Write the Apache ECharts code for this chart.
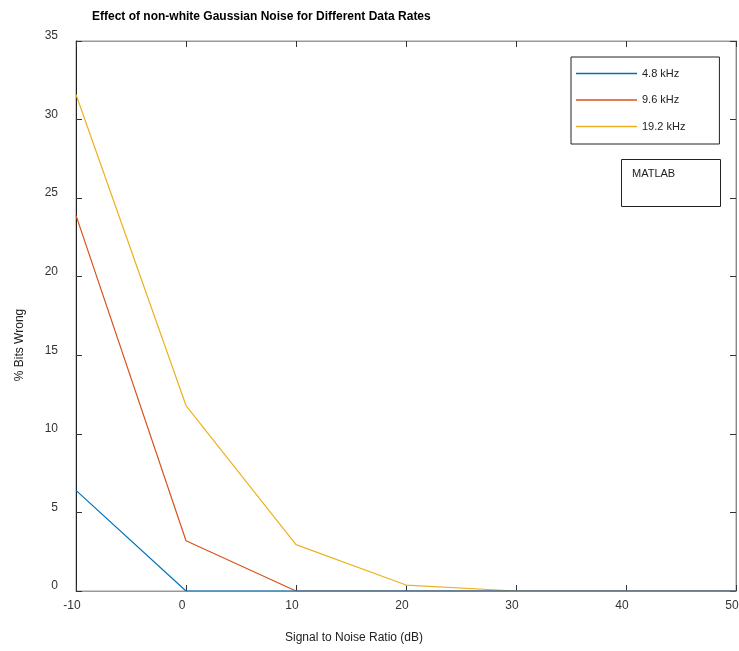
<!DOCTYPE html>
<html>
<head>
<meta charset="utf-8">
<script src="https://cdn.jsdelivr.net/npm/echarts@6/dist/echarts.min.js"></script>
<style>
  html, body { margin: 0; padding: 0; background: #fff; }
  #chart { width: 739px; height: 651px; }
</style>
</head>
<body>
<div id="chart"></div>
<script>
// 数据
var snr = [-10, 0, 10, 20, 30, 40, 50];
var rate48 = [6.4, 0, 0, 0, 0, 0, 0];
var rate96 = [23.9, 3.2, 0, 0, 0, 0, 0];
var rate192 = [31.6, 11.8, 2.95, 0.38, 0, 0, 0];
var seriesNames = ["4.8 kHz", "9.6 kHz", "19.2 kHz"];

(function() {
    var myChart = echarts.init(document.getElementById("chart"));

    function pairs(ys) {
        return snr.map(function(x, i) { return [x, ys[i]]; });
    }

    var font = "Liberation Sans, Arial, sans-serif";

    var option = {
        animation: false,
        color: ["#0072BD", "#D95319", "#EDB120"],
        textStyle: { fontFamily: font },
        title: {
            text: "Effect of non-white Gaussian Noise for Different Data Rates",
            left: 87,
            top: 6,
            textStyle: { fontSize: 12, fontWeight: "bold", color: "#000", fontFamily: font }
        },
        legend: {
            orient: "vertical",
            left: 571,
            top: 57,
            data: seriesNames,
            icon: "rect",
            itemWidth: 61,
            itemHeight: 1.5,
            itemGap: 15.5,
            padding: [11, 34, 12, 5],
            borderColor: "#222",
            borderWidth: 1,
            textStyle: { fontSize: 11, color: "#222", padding: [0, 0, 5, 0] }
        },
        grid: {
            left: 76,
            right: 3,
            top: 41,
            bottom: 60,
            outerBoundsMode: "none",
            containLabel: false,
            show: true,
            borderColor: "#999",
            borderWidth: 1
        },
        xAxis: [
            {
                type: "value",
                min: -10,
                max: 50,
                interval: 10,
                name: "Signal to Noise Ratio (dB)",
                nameLocation: "middle",
                nameGap: 41,
                nameTextStyle: { fontSize: 12, color: "#222", padding: [0, 104, 0, 0] },
                axisLine: { show: true, onZero: false, lineStyle: { color: "#999" } },
                axisTick: { show: true, inside: true, length: 6, lineStyle: { color: "#333" } },
                axisLabel: { fontSize: 12, color: "#333", margin: 9, padding: [0, 8, 0, 0] },
                splitLine: { show: false }
            },
            {
                type: "value",
                position: "top",
                min: -10,
                max: 50,
                interval: 10,
                axisLine: { show: true, onZero: false, lineStyle: { color: "#999" } },
                axisTick: { show: true, inside: true, length: 6, lineStyle: { color: "#333" } },
                axisLabel: { show: false },
                splitLine: { show: false }
            }
        ],
        yAxis: [
            {
                type: "value",
                min: 0,
                max: 35,
                interval: 5,
                name: "% Bits Wrong",
                nameLocation: "middle",
                nameGap: 50,
                nameRotate: 90,
                nameTextStyle: { fontSize: 12, color: "#222", padding: [0, 58, 0, 0] },
                axisLine: { show: true, onZero: false, lineStyle: { color: "#222" } },
                axisTick: { show: true, inside: true, length: 6, lineStyle: { color: "#333" } },
                axisLabel: {
                    fontSize: 12,
                    color: "#333",
                    margin: 18,
                    verticalAlign: "bottom",
                    lineHeight: 10
                },
                splitLine: { show: false }
            },
            {
                type: "value",
                position: "right",
                min: 0,
                max: 35,
                interval: 5,
                axisLine: { show: true, onZero: false, lineStyle: { color: "#888" } },
                axisTick: { show: true, inside: true, length: 6, lineStyle: { color: "#333" } },
                axisLabel: { show: false },
                splitLine: { show: false }
            }
        ],
        graphic: [
            {
                type: "rect",
                left: 621,
                top: 159,
                shape: { width: 99, height: 47 },
                style: { fill: "#fff", stroke: "#222", lineWidth: 1 },
                z: 100
            },
            {
                type: "text",
                left: 632,
                top: 168,
                style: { text: "MATLAB", fontSize: 11, fill: "#222", fontFamily: font },
                z: 101
            }
        ],
        series: [
            {
                name: seriesNames[0],
                type: "line",
                data: pairs(rate48),
                symbol: "none",
                lineStyle: { width: 1.2 },
                z: 4
            },
            {
                name: seriesNames[1],
                type: "line",
                data: pairs(rate96),
                symbol: "none",
                lineStyle: { width: 1.2 },
                z: 3
            },
            {
                name: seriesNames[2],
                type: "line",
                data: pairs(rate192),
                symbol: "none",
                lineStyle: { width: 1.2 },
                z: 2
            }
        ]
    };

    myChart.setOption(option);
    window.addEventListener("resize", function() {
        myChart.resize();
    });
})();
</script>
</body>
</html>
